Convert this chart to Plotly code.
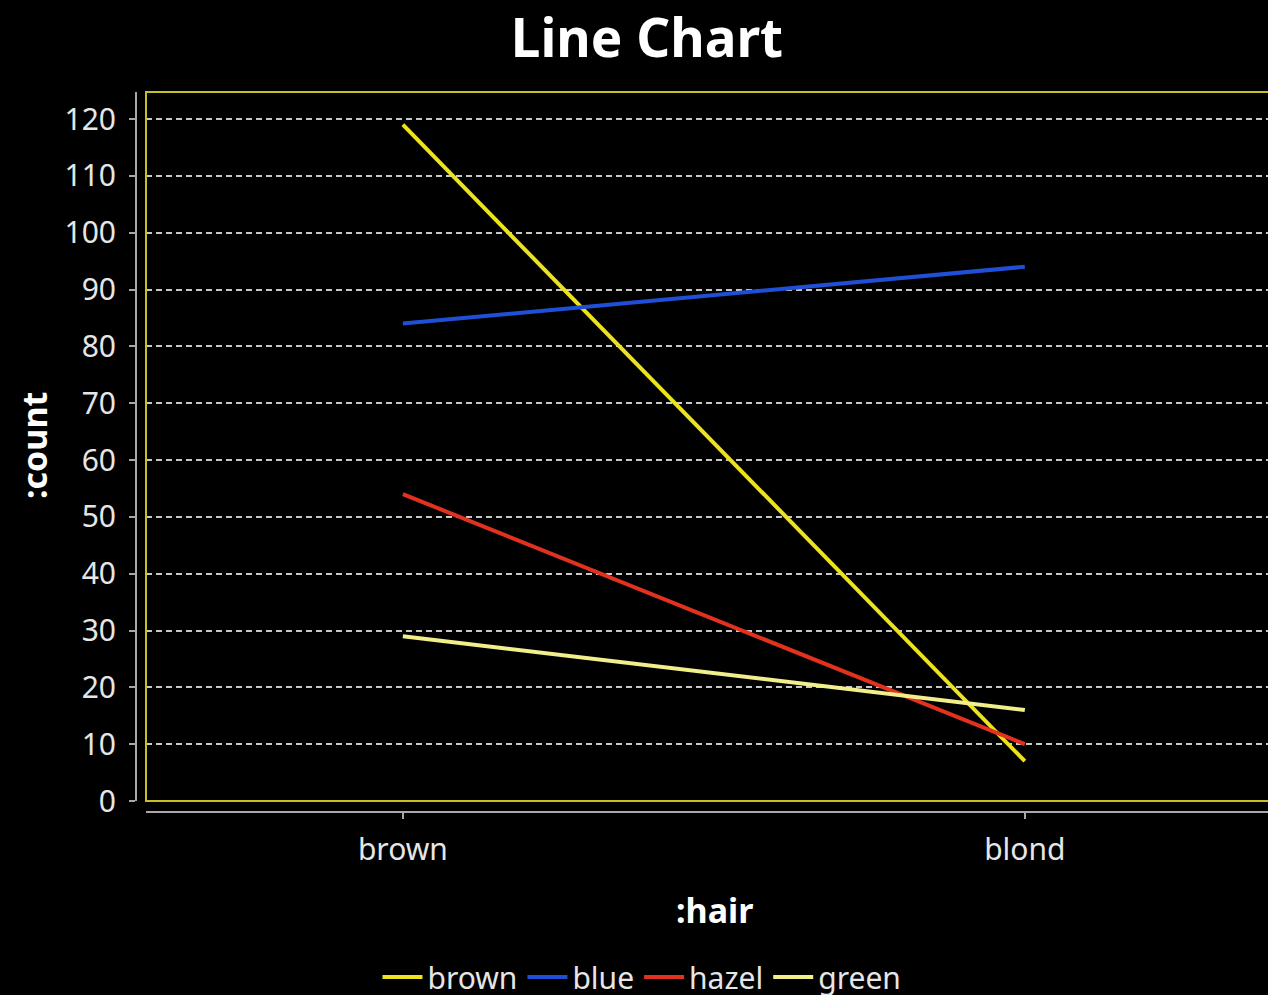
import plotly.graph_objects as go

# Hair colour categories on the x axis
hair = ["brown", "blond"]

# Counts per eye colour
eye_brown = [119, 7]
eye_blue = [84, 94]
eye_hazel = [54, 10]
eye_green = [29, 16]

series = [
    ("brown", eye_brown, "#ece21e"),
    ("blue", eye_blue, "#1f4fd6"),
    ("hazel", eye_hazel, "#e2321f"),
    ("green", eye_green, "#f2ee8a"),
]

W, H = 1268, 995
ML, MR, MT, MB = 60, 0, 92, 140
PW = W - ML - MR
PH = H - MT - MB


def px_x(p):
    return (p - ML) / PW


def px_y(p):
    return (H - MB - p) / PH


FONT = "Noto Sans"

fig = go.Figure()
for name, vals, col in series:
    fig.add_trace(go.Scatter(
        x=hair, y=vals, name=name, mode="lines",
        line=dict(color=col, width=4),
    ))

x0 = px_x(146)
y0 = px_y(801)

fig.update_layout(
    width=W, height=H,
    margin=dict(l=ML, r=MR, t=MT, b=MB, autoexpand=False),
    paper_bgcolor="black", plot_bgcolor="black",
    font=dict(family=FONT, color="#e6e6e6", size=30),
    title=dict(text="<b>Line Chart</b>", x=647 / W, xanchor="center",
               y=1 - 38 / H, yanchor="middle",
               font=dict(family=FONT, size=53, color="white")),
    showlegend=True,
    legend=dict(orientation="h", x=px_x(642), xanchor="center",
                y=px_y(977), yanchor="middle",
                font=dict(family=FONT, size=30, color="#e6e6e6"),
                bgcolor="rgba(0,0,0,0)", itemwidth=40, tracegroupgap=0),
    xaxis=dict(
        type="category", domain=[x0, 1], range=[-0.413, 1.391],
        anchor="free", position=px_y(812),
        showline=True, linecolor="#a8a8a8", linewidth=2,
        ticks="outside", ticklen=6, tickcolor="#a8a8a8", tickwidth=2,
        showgrid=False, zeroline=False,
        tickfont=dict(family=FONT, size=30, color="#e6e6e6"),
        ticklabelstandoff=5,
    ),
    yaxis=dict(
        domain=[y0, 1], range=[0, 124.75],
        anchor="free", position=px_x(136),
        tick0=0, dtick=10,
        showline=True, linecolor="#a8a8a8", linewidth=2,
        ticks="outside", ticklen=6, tickcolor="#a8a8a8", tickwidth=2,
        showgrid=True, gridcolor="#c8c8c8", gridwidth=1.5, griddash="6px,4px",
        zeroline=False,
        tickfont=dict(family=FONT, size=30, color="#e6e6e6"),
        ticklabelstandoff=7,
    ),
    shapes=[
        # plot frame (right side runs past the page edge)
        dict(type="rect", xref="paper", yref="paper",
             x0=x0, x1=1.05, y0=y0, y1=1,
             line=dict(color="#c9bf22", width=2), layer="above"),
    ],
    annotations=[
        dict(text="<b>:hair</b>", xref="paper", yref="paper",
             x=px_x(714), y=px_y(910), xanchor="center", yanchor="middle",
             showarrow=False, font=dict(family=FONT, size=34, color="white")),
        dict(text="<b>:count</b>", xref="paper", yref="paper",
             x=px_x(34), y=px_y(446), xanchor="center", yanchor="middle",
             textangle=-90, showarrow=False,
             font=dict(family=FONT, size=34, color="white")),
    ],
)

fig.write_html("out.html")
